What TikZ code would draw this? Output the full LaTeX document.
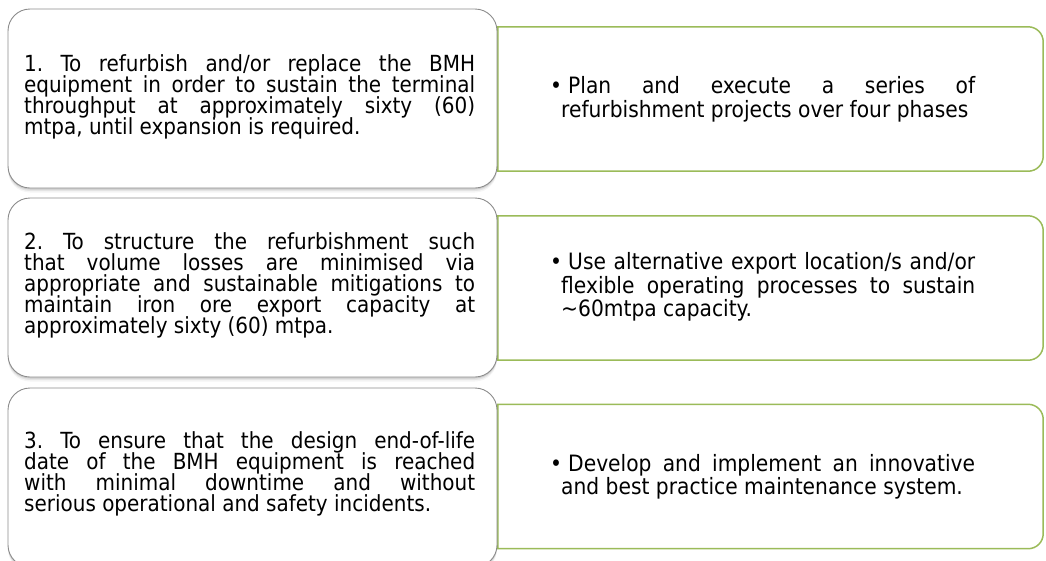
\documentclass[tikz,border=0pt]{standalone}
\usepackage{fontspec}
\setmainfont{DejaVu Sans Condensed}
\definecolor{boxgray}{HTML}{8C8C8C}
\definecolor{leafgreen}{HTML}{9BBB59}
\newlength{\lw}\setlength{\lw}{451pt}
\newlength{\rw}\setlength{\rw}{425pt}
\newcommand{\jline}[2]{\makebox[#1][s]{#2}}
\newcommand{\bul}{\makebox[18pt][l]{\textbullet}}
\newcommand{\tightlines}{\lineskiplimit=-100pt\relax\frenchspacing}
\newcommand{\goalfont}{\fontsize{22.2}{21}\selectfont\tightlines}
\newcommand{\leaffont}{\fontsize{22.5}{23.5}\selectfont\tightlines}
\begin{document}
\begin{tikzpicture}[x=1pt,y=-1pt,
  goal/.style={draw=boxgray, line width=0.9pt, fill=white, rounded corners=22pt,
    minimum width=489pt, minimum height=179pt, inner sep=0pt,
    preaction={fill=black, fill opacity=0.10, draw=none, transform canvas={yshift=-1.5pt}},
    preaction={fill=black, fill opacity=0.07, draw=none, transform canvas={yshift=-3pt}},
    preaction={fill=black, fill opacity=0.04, draw=none, transform canvas={yshift=-4.5pt}}},
  leaf/.style={minimum width=545pt, minimum height=144pt, inner sep=0pt},
  leafline/.style={draw=leafgreen, line width=1.5pt, fill=white},
  goaltext/.style={inner sep=0pt, align=left, font=\goalfont, anchor=west},
  leaftext/.style={inner sep=0pt, align=left, font=\leaffont, anchor=west},
]
\useasboundingbox (0,0) rectangle (1046,560);

% right (green) boxes
\foreach \n/\y in {a1/99, a2/288, a3/476.5}{
  \node[leaf] (\n) at (770.5,\y) {};
  \draw[leafline] (\n.south west) -- (\n.north west)
     -- ([xshift=-15pt]\n.north east) arc[start angle=90, end angle=0, radius=15pt]
     -- ([yshift=15pt]\n.south east) arc[start angle=0, end angle=-90, radius=15pt]
     -- cycle;
}

% left (grey) boxes
\node[goal] (g1) at (252.5,98.5) {};
\node[goal] (g2) at (252.5,287.5) {};
\node[goal] (g3) at (252.5,477.5) {};

% left texts
\node[goaltext] (t1) at (24,97) {\jline{\lw}{1. To refurbish and/or replace the BMH}\\
\jline{\lw}{equipment in order to sustain the terminal}\\
\jline{\lw}{throughput at approximately sixty (60)}\\
mtpa, until expansion is required.};

\node[goaltext] (t2) at (24,285.5) {\jline{\lw}{2. To structure the refurbishment such}\\
\jline{\lw}{that volume losses are minimised via}\\
\jline{\lw}{appropriate and sustainable mitigations to}\\
\jline{\lw}{maintain iron ore export capacity at}\\
approximately sixty (60) mtpa.};

\node[goaltext] (t3) at (24,474) {\jline{\lw}{3. To ensure that the design end-of-life}\\
\jline{\lw}{date of the BMH equipment is reached}\\
\jline{\lw}{with minimal downtime and without}\\
serious operational and safety incidents.};

% right texts
\node[leaftext] (s1) at (550,99.5) {\jline{\rw}{\bul Plan and execute a series of}\\
\hspace*{11pt}refurbishment projects over four phases};

\node[leaftext] (s2) at (550,287) {\jline{\rw}{\bul Use alternative export location/s and/or}\\
\hspace*{11pt}\jline{414pt}{flexible operating processes to sustain}\\
\hspace*{11pt}\textasciitilde60mtpa capacity.};

\node[leaftext] (s3) at (550,477) {\jline{\rw}{\bul Develop and implement an innovative}\\
\hspace*{11pt}and best practice maintenance system.};
\end{tikzpicture}
\end{document}
